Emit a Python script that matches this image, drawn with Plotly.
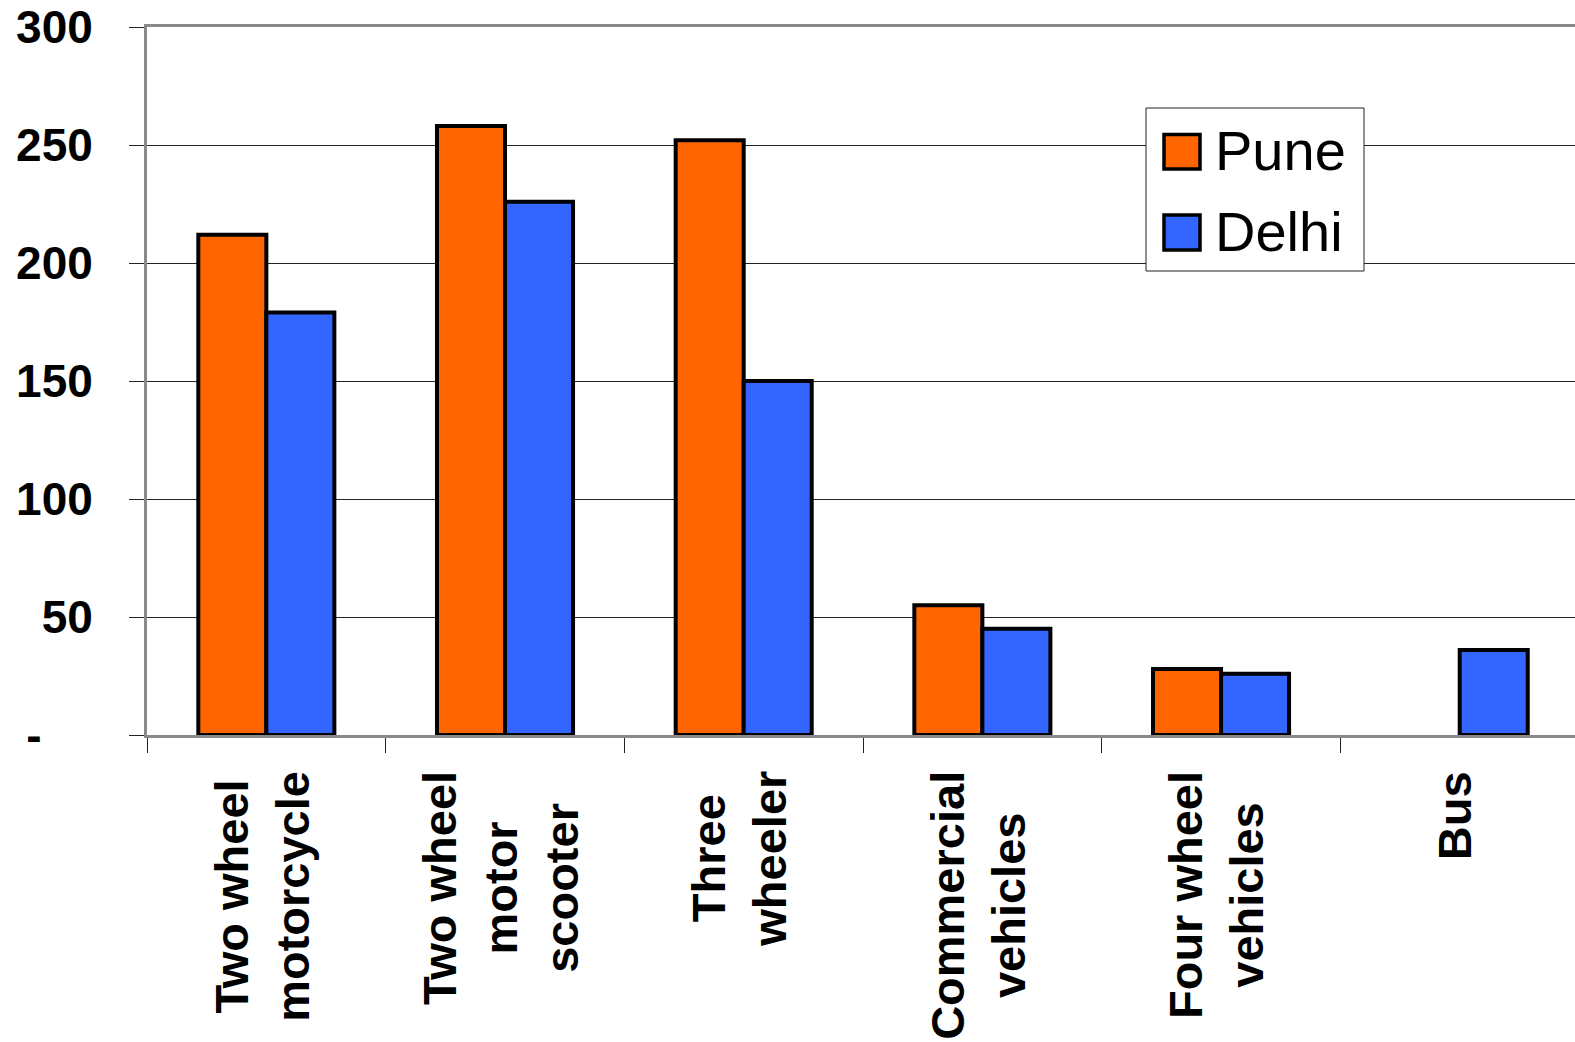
import plotly.graph_objects as go

# Vehicle categories (line breaks as shown under the axis)
categories = [
    "Two wheel<br>motorcycle",
    "Two wheel<br>motor<br>scooter",
    "Three<br>wheeler",
    "Commercial<br>vehicles",
    "Four wheel<br>vehicles",
    "Bus",
]
pune = [212, 258, 252, 55, 28, None]
delhi = [179, 226, 150, 45, 26, 36]

series_names = ["Pune", "Delhi"]
series_colors = ["#FF6600", "#3366FF"]

y_tickvals = [0, 50, 100, 150, 200, 250, 300]
y_ticktext = ["-\u00a0\u00a0\u00a0\u00a0", "50", "100", "150", "200", "250", "300"]

W, H = 1575, 1042
ML, MR, MT, MB = 147, 0, 27, 307
FONT = "Liberation Sans, Arial, sans-serif"


def px_x(p):
    return (p - ML) / (W - ML - MR)


def px_y(p):
    return (H - MB - p) / (H - MT - MB)


fig = go.Figure()
for name, vals, col in zip(series_names, [pune, delhi], series_colors):
    fig.add_trace(go.Bar(
        x=categories, y=vals, name=name,
        marker=dict(color=col, line=dict(color="black", width=4)),
        showlegend=False,
    ))

# category labels, rotated and centred line by line
annotations = []
for c in categories:
    annotations.append(dict(
        x=c, xref="x", y=0, yref="paper",
        text=c, textangle=-90, showarrow=False,
        xanchor="center", yanchor="top", yshift=-34, xshift=-5, align="center",
        font=dict(family=FONT, size=47, color="black", weight="bold"),
    ))

# legend box drawn by hand so the swatches match the text size
shapes = [dict(
    type="rect", xref="paper", yref="paper",
    x0=px_x(1146), x1=px_x(1364), y0=px_y(271), y1=px_y(108),
    line=dict(color="#222", width=1), fillcolor="white", layer="above",
)]
legend_rows = [(134.5, 169, 150), (215, 250, 231)]
for (top, bot, mid), name, col in zip(legend_rows, series_names, series_colors):
    shapes.append(dict(
        type="rect", xref="paper", yref="paper",
        x0=px_x(1164), x1=px_x(1200), y0=px_y(bot), y1=px_y(top),
        line=dict(color="black", width=3.5), fillcolor=col, layer="above",
    ))
    annotations.append(dict(
        x=px_x(1213), xref="paper", y=px_y(mid), yref="paper",
        text=name, showarrow=False, xanchor="left", yanchor="middle",
        font=dict(family=FONT, size=56, color="black"),
    ))

fig.update_layout(
    width=W, height=H,
    margin=dict(l=ML, r=MR, t=MT, b=MB, pad=0),
    paper_bgcolor="white", plot_bgcolor="white",
    barmode="group", bargap=0.43, bargroupgap=0,
    shapes=shapes, annotations=annotations,
    font=dict(family=FONT, color="black"),
)
fig.update_xaxes(
    type="category", range=[-0.5, 5.483],
    showticklabels=False, showgrid=False,
    showline=True, linecolor="#8a8a8a", linewidth=3, mirror=True,
    ticks="outside", tickson="boundaries", ticklen=15, tickwidth=1, tickcolor="#222",
)
fig.update_yaxes(
    range=[0, 300], tickvals=y_tickvals, ticktext=y_ticktext,
    showgrid=True, gridcolor="#222", gridwidth=1, zeroline=False,
    showline=True, linecolor="#8a8a8a", linewidth=3,
    ticks="outside", ticklen=15, tickwidth=1, tickcolor="#222",
    ticklabelstandoff=27,
    tickfont=dict(family=FONT, size=46, color="black", weight="bold"),
)

fig.write_html("out.html")
